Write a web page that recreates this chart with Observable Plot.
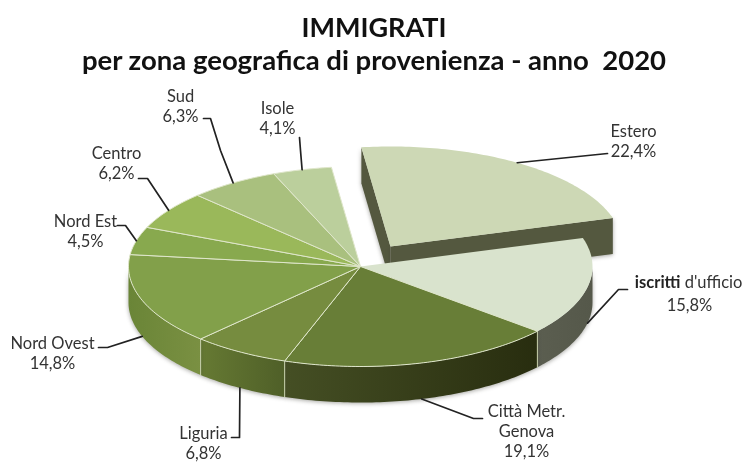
<!DOCTYPE html>
<html>
<head>
<meta charset="utf-8">
<script src="https://cdn.jsdelivr.net/npm/d3@7"></script>
<script src="https://cdn.jsdelivr.net/npm/@observablehq/plot@0.6"></script>
<style>
html,body{margin:0;padding:0;background:#fff;overflow:hidden}
#page{width:748px;height:462px;filter:blur(.55px)}
#t{height:78px;text-align:center;font-family:Lato,sans-serif;font-weight:700;color:#111;position:relative}
#t div{position:absolute;left:0;width:748px;white-space:pre}
#t1{top:10px;font-size:27px;line-height:34px}
#t2{top:44px;font-size:27.5px;line-height:32px}
svg{display:block}
</style>
</head>
<body>
<div id="page">
<div id="t"><div id="t1">IMMIGRATI</div><div id="t2">per zona geografica di provenienza - anno  2020</div></div>
<div id="chart"></div>
</div>
<script>
// ---- data, clockwise from the Estero slice ----
const categories = ["Estero","iscritti d'ufficio","Città Metr.\nGenova","Liguria","Nord Ovest","Nord Est","Centro","Sud","Isole"];
const shares = [22.4,15.8,19.1,6.8,14.8,4.5,6.2,6.3,4.1];
const topColors = ["#cdd8b5","#d9e3cd","#687e37","#768c3f","#82a04a","#88a94e","#9ab85a","#a9c07e","#bbcf9c"];
const sideLeft = ["#54583f","#5b5e50","#454f24","#667a33","#6a8537","#88a94e","#9ab85a","#a9c07e","#bbcf9c"];
const sideRight = ["#54583f","#55584a","#282d0f","#4f5f28","#7a9042","#88a94e","#9ab85a","#a9c07e","#bbcf9c"];

// ---- layout (pixels of the page) ----
const W = 748, H = 384, titleH = 78;
const cx = 360, cy = 266, rx = 232, ry = 100;
const depth = 0.36, startDeg = -7.2, explode = [0.129, 0.2];
const ux = px => (px - cx) / rx, uy = py => (cy - py) / ry;
const labelAt = [[633,140],[689,292],[526,430],[203,442],[52,352],[85,230],[116,162],[180,105],[277,117]];
const elbows = [
  [[607,153]],
  [[618,289],[627,289]],
  [[473,418],[482,418]],
  [[239,437],[231,437]],
  [[107,347],[98,347]],
  [[125,225],[117,225]],
  [[147,178],[138,178]],
  [[220,150],[210,118],[203,118]],
  [[300,150],[299,137]]
];

const fmt = v => v.toFixed(1).replace(".", ",") + "%";
const rad = d => d * Math.PI / 180;
const total = d3.sum(shares);
let acc = startDeg;
const slices = categories.map((name, i) => {
  const a0 = acc, a1 = acc + shares[i] / total * 360; acc = a1;
  const [ox, oy] = i === 0 ? explode : [0, 0];
  return {i, name, a0, a1, mid: (a0 + a1) / 2, ox, oy};
});
const rim = (s, a, dz = 0) => ({x: s.ox + Math.sin(rad(a)), y: s.oy + Math.cos(rad(a)) - dz});
const arc = (s, a0, a1, dz = 0) => {
  const n = Math.max(2, Math.ceil(Math.abs(a1 - a0)));
  return d3.range(n + 1).map(k => rim(s, a0 + (a1 - a0) * k / n, dz));
};

const marks = [];
marks.push(() => {
  const defs = d3.create("svg:defs");
  slices.forEach(s => {
    const g = defs.append("linearGradient").attr("id", "side" + s.i).attr("x1", 0).attr("x2", 1).attr("y1", 0).attr("y2", 0);
    g.append("stop").attr("offset", 0).attr("stop-color", sideLeft[s.i]);
    g.append("stop").attr("offset", 1).attr("stop-color", sideRight[s.i]);
  });
  return defs.node();
});

const shadow = "drop-shadow(0 1px 2px rgba(60,60,50,.45))";
// exploded slice: its two cut faces
const e = slices[0];
const apex = {x: e.ox, y: e.oy}, apexLow = {x: e.ox, y: e.oy - depth};
[e.a0, e.a1].forEach(a => {
  marks.push(Plot.line([apex, rim(e, a), rim(e, a, depth), apexLow, apex],
    {x: "x", y: "y", fill: sideLeft[0], stroke: "none", imageFilter: shadow}));
});
// rim walls of the front slices
slices.slice(1).forEach(s => {
  const a0 = Math.max(s.a0, 90), a1 = Math.min(s.a1, 270);
  if (a1 <= a0) return;
  const pts = [...arc(s, a0, a1), ...arc(s, a1, a0, depth)];
  marks.push(Plot.line(pts, {x: "x", y: "y", fill: `url(#side${s.i})`, stroke: "none", imageFilter: shadow}));
});
slices.slice(2, 5).forEach(s => {
  marks.push(Plot.line([rim(s, s.a0), rim(s, s.a0, depth)], {x: "x", y: "y", stroke: "#c9d2ae", strokeWidth: 1}));
});
// top faces
slices.forEach(s => {
  const pts = [{x: s.ox, y: s.oy}, ...arc(s, s.a0, s.a1), {x: s.ox, y: s.oy}];
  marks.push(Plot.line(pts, {x: "x", y: "y", fill: topColors[s.i],
    stroke: s.i < 2 ? "none" : "#dfe6cb", strokeWidth: 1, strokeLinejoin: "round"}));
});
// leader lines: from the rim at the middle of each slice
slices.forEach(s => {
  const a = ((s.mid % 360) + 360) % 360;
  const start = rim(s, s.mid, a > 90 && a < 270 ? depth : 0);
  const pts = [start, ...elbows[s.i].map(([px, py]) => ({x: ux(px), y: uy(py)}))];
  marks.push(Plot.line(pts, {x: "x", y: "y", stroke: "#222", strokeWidth: 1.7}));
});
// labels
const labels = slices.map(s => ({
  text: (s.i === 1 ? "" : s.name + "\n") + fmt(shares[s.i]),
  x: ux(labelAt[s.i][0]), y: uy(labelAt[s.i][1])
}));
const labelStyle = {fontFamily: "Lato, sans-serif", fontSize: 16.5, fill: "#333", lineHeight: 1.2};
marks.push(Plot.text(labels.filter((d, i) => i !== 1), {x: "x", y: "y", text: "text", ...labelStyle}));
const [boldWord, ...restWords] = categories[1].split(" ");
marks.push(Plot.text([labels[1]], {x: "x", y: () => uy(304), text: "text", ...labelStyle}));
marks.push(Plot.text([boldWord], {x: () => ux(680), y: () => uy(281), text: d => d, textAnchor: "end", ...labelStyle, fontWeight: 700, fill: "#222"}));
marks.push(Plot.text([" " + restWords.join(" ")], {x: () => ux(680), y: () => uy(281), text: d => d, textAnchor: "start", ...labelStyle}));

const chart = Plot.plot({
  width: W, height: H,
  marginTop: 0, marginRight: 0, marginBottom: 0, marginLeft: 0,
  x: {domain: [ux(0), ux(W)], range: [0, W], axis: null},
  y: {domain: [uy(titleH + H), uy(titleH)], range: [H, 0], axis: null},
  style: {background: "transparent", overflow: "hidden"},
  marks
});
document.getElementById("chart").append(chart);
</script>
</body>
</html>
